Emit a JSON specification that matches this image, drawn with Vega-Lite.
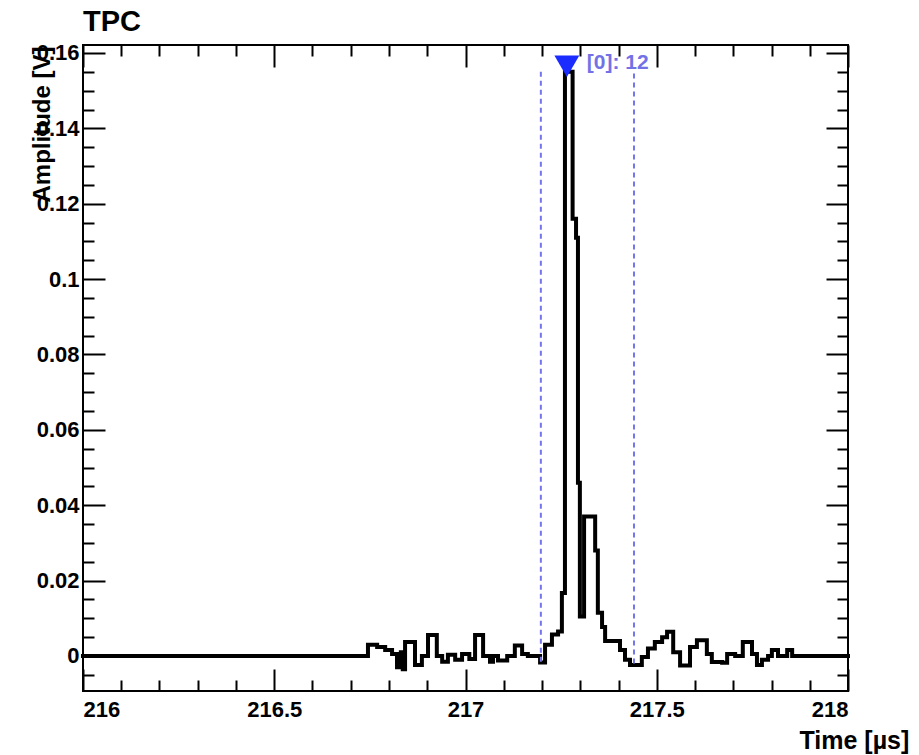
{
  "$schema": "https://vega.github.io/schema/vega-lite/v6.json",
  "width": 765,
  "height": 646,
  "autosize": {"type": "none"},
  "padding": {"left": 83, "top": 45, "right": 71, "bottom": 64},
  "background": "white",
  "config": {
    "view": {"stroke": "black", "strokeWidth": 2},
    "axis": {
      "grid": false,
      "domain": false,
      "labelFont": "Liberation Sans",
      "labelFontWeight": "bold",
      "labelFontSize": 22,
      "labelColor": "black",
      "tickColor": "black",
      "tickWidth": 2,
      "titleFont": "Liberation Sans",
      "titleFontWeight": "bold",
      "titleColor": "black",
      "titleFontSize": 24
    }
  },
  "title": {"text": "TPC", "anchor": "start", "frame": "group", "font": "Liberation Sans", "fontSize": 29, "fontWeight": "bold", "color": "black", "offset": 5},
  "datasets": {
    "hist": [
      {"t": 216.0, "v": 0},
      {"t": 216.745, "v": 0.003},
      {"t": 216.769, "v": 0.0024},
      {"t": 216.79, "v": 0.0016},
      {"t": 216.808, "v": 0.0005},
      {"t": 216.821, "v": -0.003},
      {"t": 216.831, "v": 0.001},
      {"t": 216.836, "v": -0.0035},
      {"t": 216.842, "v": 0.0037},
      {"t": 216.868, "v": -0.0024},
      {"t": 216.886, "v": 0},
      {"t": 216.902, "v": 0.0056},
      {"t": 216.925, "v": 0},
      {"t": 216.939, "v": -0.0015},
      {"t": 216.954, "v": 0.0003},
      {"t": 216.973, "v": -0.001},
      {"t": 216.991, "v": 0.0005},
      {"t": 217.01, "v": -0.0008},
      {"t": 217.025, "v": 0.0056},
      {"t": 217.046, "v": 0},
      {"t": 217.064, "v": -0.0015},
      {"t": 217.072, "v": 0},
      {"t": 217.085, "v": -0.0012},
      {"t": 217.109, "v": 0},
      {"t": 217.129, "v": 0.0028},
      {"t": 217.148, "v": 0.0005},
      {"t": 217.163, "v": 0},
      {"t": 217.195, "v": -0.0017},
      {"t": 217.208, "v": 0.003},
      {"t": 217.226, "v": 0.0057},
      {"t": 217.242, "v": 0.0065},
      {"t": 217.252, "v": 0.0167},
      {"t": 217.26, "v": 0.155},
      {"t": 217.28, "v": 0.116},
      {"t": 217.289, "v": 0.111},
      {"t": 217.294, "v": 0.046},
      {"t": 217.299, "v": 0.0105},
      {"t": 217.31, "v": 0.037},
      {"t": 217.339, "v": 0.028},
      {"t": 217.346, "v": 0.0115},
      {"t": 217.357, "v": 0.0077},
      {"t": 217.365, "v": 0.004},
      {"t": 217.404, "v": 0.0016},
      {"t": 217.417, "v": -0.001},
      {"t": 217.43, "v": -0.0024},
      {"t": 217.461, "v": -0.0003},
      {"t": 217.477, "v": 0.002},
      {"t": 217.495, "v": 0.0037},
      {"t": 217.514, "v": 0.005},
      {"t": 217.527, "v": 0.0064},
      {"t": 217.543, "v": 0.001},
      {"t": 217.561, "v": -0.0025},
      {"t": 217.587, "v": 0.0024},
      {"t": 217.605, "v": 0.0042},
      {"t": 217.631, "v": 0.0005},
      {"t": 217.644, "v": -0.0016},
      {"t": 217.671, "v": -0.0018},
      {"t": 217.684, "v": 0.0005},
      {"t": 217.705, "v": 0},
      {"t": 217.725, "v": 0.0037},
      {"t": 217.749, "v": 0.0005},
      {"t": 217.762, "v": -0.0024},
      {"t": 217.775, "v": -0.001},
      {"t": 217.791, "v": 0},
      {"t": 217.801, "v": 0.0016},
      {"t": 217.817, "v": 0},
      {"t": 217.841, "v": 0.0016},
      {"t": 217.854, "v": 0},
      {"t": 218.0, "v": 0}
    ],
    "bounds": [
      {"t": 217.197, "lo": -0.0015, "hi": 0.1555},
      {"t": 217.4405, "lo": -0.002, "hi": 0.1555}
    ],
    "peak": [
      {"t": 217.265, "v": 0.1565, "label": "[0]: 12"}
    ]
  },
  "resolve": {"axis": {"x": "independent", "y": "independent"}},
  "layer": [
    {
      "data": {"name": "hist"},
      "mark": {"type": "line", "interpolate": "step-after", "color": "black", "strokeWidth": 4, "strokeCap": "square"},
      "encoding": {
        "x": {"field": "t", "type": "quantitative",
          "scale": {"domain": [216, 218], "nice": false, "zero": false},
          "axis": {"orient": "bottom", "values": [216, 216.5, 217, 217.5, 218], "format": "~g", "tickSize": -22, "labelPadding": 30, "labelFlush": true,
            "title": "Time [µs]", "titleX": 716, "titleY": 57, "titleAlign": "left", "titleAnchor": "start", "titleBaseline": "alphabetic", "titleFontSize": 25}},
        "y": {"field": "v", "type": "quantitative",
          "scale": {"domain": [-0.00929, 0.16212], "nice": false, "zero": false},
          "axis": {"orient": "left", "values": [0, 0.02, 0.04, 0.06, 0.08, 0.1, 0.12, 0.14, 0.16], "format": "~g", "tickSize": -22, "labelPadding": 26,
            "title": "Amplitude [V]", "titleX": -41, "titleY": 1, "titleAngle": -90, "titleAlign": "right", "titleAnchor": "end", "titleBaseline": "middle"}}
      }
    },
    {
      "data": {"name": "bounds"},
      "mark": {"type": "rule", "color": "#7474ec", "strokeWidth": 2, "strokeDash": [5, 4]},
      "encoding": {
        "x": {"field": "t", "type": "quantitative",
          "scale": {"domain": [216, 218], "nice": false, "zero": false},
          "axis": {"orient": "bottom", "values": [216.1, 216.2, 216.3, 216.4, 216.6, 216.7, 216.8, 216.9, 217.1, 217.2, 217.3, 217.4, 217.6, 217.7, 217.8, 217.9], "labels": false, "tickSize": -11, "title": null}},
        "y": {"field": "lo", "type": "quantitative",
          "scale": {"domain": [-0.00929, 0.16212], "nice": false, "zero": false},
          "axis": {"orient": "left", "values": [-0.005, 0.005, 0.01, 0.015, 0.025, 0.03, 0.035, 0.045, 0.05, 0.055, 0.065, 0.07, 0.075, 0.085, 0.09, 0.095, 0.105, 0.11, 0.115, 0.125, 0.13, 0.135, 0.145, 0.15, 0.155], "labels": false, "tickSize": -11, "title": null}},
        "y2": {"field": "hi"}
      }
    },
    {
      "data": {"name": "peak"},
      "mark": {"type": "point", "shape": "triangle-down", "filled": true, "color": "#1a2cff", "opacity": 1, "size": 620},
      "encoding": {
        "x": {"field": "t", "type": "quantitative",
          "scale": {"domain": [216, 218], "nice": false, "zero": false},
          "axis": {"orient": "top", "values": [216, 216.5, 217, 217.5, 218], "labels": false, "tickSize": -22, "title": null}},
        "y": {"field": "v", "type": "quantitative",
          "scale": {"domain": [-0.00929, 0.16212], "nice": false, "zero": false},
          "axis": {"orient": "right", "values": [0, 0.02, 0.04, 0.06, 0.08, 0.1, 0.12, 0.14, 0.16], "labels": false, "tickSize": -22, "title": null}}
      }
    },
    {
      "data": {"name": "peak"},
      "mark": {"type": "text", "align": "left", "baseline": "middle", "dx": 20, "dy": -3, "color": "#7272e6", "font": "Liberation Sans", "fontSize": 21, "fontWeight": "bold"},
      "encoding": {
        "x": {"field": "t", "type": "quantitative",
          "scale": {"domain": [216, 218], "nice": false, "zero": false},
          "axis": {"orient": "top", "values": [216.1, 216.2, 216.3, 216.4, 216.6, 216.7, 216.8, 216.9, 217.1, 217.2, 217.3, 217.4, 217.6, 217.7, 217.8, 217.9], "labels": false, "tickSize": -11, "title": null}},
        "y": {"field": "v", "type": "quantitative",
          "scale": {"domain": [-0.00929, 0.16212], "nice": false, "zero": false},
          "axis": {"orient": "right", "values": [-0.005, 0.005, 0.01, 0.015, 0.025, 0.03, 0.035, 0.045, 0.05, 0.055, 0.065, 0.07, 0.075, 0.085, 0.09, 0.095, 0.105, 0.11, 0.115, 0.125, 0.13, 0.135, 0.145, 0.15, 0.155], "labels": false, "tickSize": -11, "title": null}},
        "text": {"field": "label", "type": "nominal"}
      }
    }
  ]
}
